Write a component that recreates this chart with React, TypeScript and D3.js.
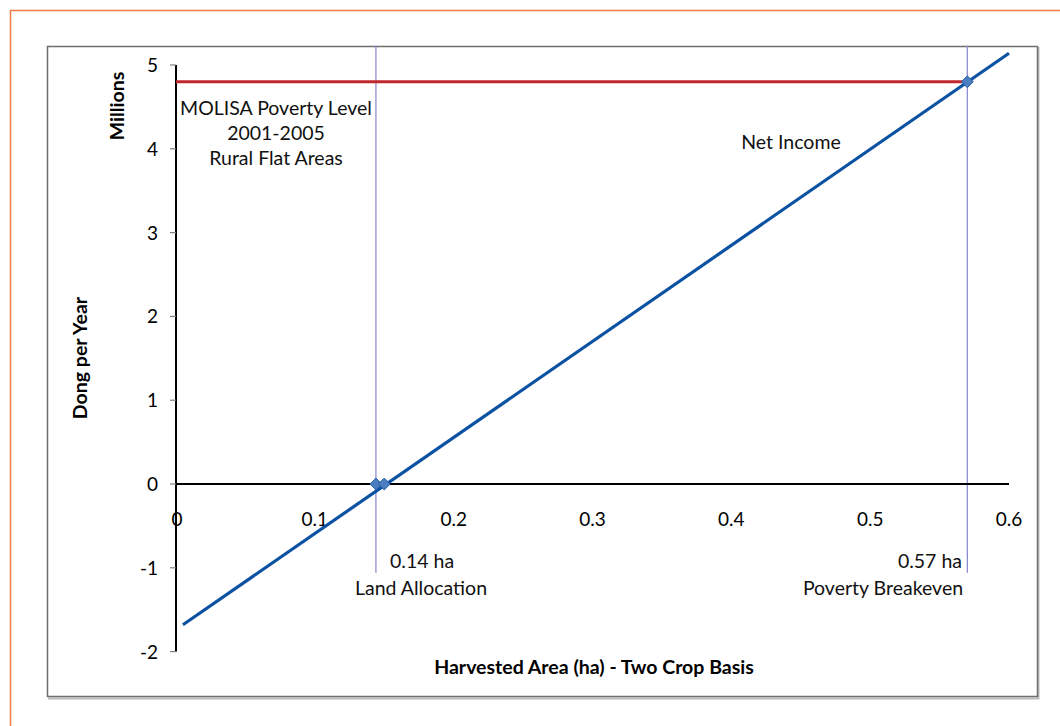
import * as d3 from 'd3';
import { useEffect, useRef } from 'react';

// values
const netIncomeX = [0.005, 0.6];
const netIncomeY = [-1.68, 5.14];
const povertyX = [0, 0.57];
const povertyY = [4.8, 4.8];
const markerX = [0.144, 0.15, 0.57];
const markerY = [0, 0, 4.8];
const dropX = [0.144, 0.57];
const dropTop = 5.23;
const dropBottom = -1.06;
const xTicks = [0, 0.1, 0.2, 0.3, 0.4, 0.5, 0.6];
const yTicks = [-2, -1, 0, 1, 2, 3, 4, 5];

const W = 1060;
const H = 726;
const FONT = 'Lato, "Open Sans", sans-serif';

export default function App() {
  const ref = useRef<SVGSVGElement | null>(null);

  useEffect(() => {
    const svg = d3.select(ref.current);
    svg.selectAll('*').remove();
    svg.attr('width', W).attr('height', H).attr('viewBox', [0, 0, W, H]);

    svg.append('rect').attr('width', W).attr('height', H).attr('fill', '#fff');

    // outer orange frame (only top and left visible)
    svg.append('path').attr('d', `M10.5,${H} V10.5 H${W}`).attr('fill', 'none').attr('stroke', '#f47a4a').attr('stroke-width', 1.5);

    // chart box with shadow
    svg.append('path').attr('d', 'M1038.5,47 V698.5 H48').attr('fill', 'none').attr('stroke', '#bbb').attr('stroke-width', 2);
    svg.append('rect').attr('x', 47.5).attr('y', 46.5).attr('width', 990).attr('height', 650).attr('fill', 'none').attr('stroke', '#6e6e6e').attr('stroke-width', 1.5);

    const x = d3.scaleLinear().domain([0, 0.6]).range([176, 1009]);
    const y = d3.scaleLinear().domain([-2, 5]).range([651.6, 65]);

    // drop lines
    svg.append('g').selectAll('line').data(dropX).join('line')
      .attr('x1', (d) => x(d)).attr('x2', (d) => x(d))
      .attr('y1', y(dropTop)).attr('y2', y(dropBottom))
      .attr('stroke', '#8f8fcf').attr('stroke-width', 1.3);

    // y axis
    svg.append('line').attr('x1', x(0)).attr('x2', x(0)).attr('y1', y(5)).attr('y2', y(-2)).attr('stroke', '#000').attr('stroke-width', 2);
    svg.append('g').selectAll('line').data(yTicks).join('line')
      .attr('x1', x(0) - 6).attr('x2', x(0)).attr('y1', (d) => y(d)).attr('y2', (d) => y(d))
      .attr('stroke', '#808080').attr('stroke-width', 1.2);
    svg.append('g').attr('font-family', FONT).attr('font-size', 19).attr('text-anchor', 'end')
      .selectAll('text').data(yTicks).join('text')
      .attr('x', 158).attr('y', (d) => y(d) + 7).text((d) => String(d));

    // x axis at zero
    svg.append('line').attr('x1', x(0)).attr('x2', x(0.6)).attr('y1', y(0)).attr('y2', y(0)).attr('stroke', '#000').attr('stroke-width', 2);
    svg.append('g').attr('font-family', FONT).attr('font-size', 19).attr('text-anchor', 'middle')
      .selectAll('text').data(xTicks).join('text')
      .attr('x', (d) => x(d) + (d === 0 ? 1 : 0)).attr('y', y(0) + 42).text((d) => (d === 0 ? '0' : d3.format('.1f')(d)));

    // poverty level line
    const line = d3.line<number>().x((d, i) => x(povertyX[i])).y((d) => y(d));
    svg.append('path').datum(povertyY).attr('d', line).attr('fill', 'none').attr('stroke', '#c0262c').attr('stroke-width', 3);

    // net income line
    const line2 = d3.line<number>().x((d, i) => x(netIncomeX[i])).y((d) => y(d));
    svg.append('path').datum(netIncomeY).attr('d', line2).attr('fill', 'none').attr('stroke', '#0c52a2').attr('stroke-width', 3.2);

    // markers
    const diamond = d3.symbol().type(d3.symbolDiamond2).size(90);
    svg.append('g').selectAll('path').data(markerX).join('path')
      .attr('transform', (d, i) => `translate(${x(d)},${y(markerY[i])})`)
      .attr('d', diamond).attr('fill', '#4a7ec0').attr('stroke', '#2860a8').attr('stroke-width', 1);

    const t = svg.append('g').attr('font-family', FONT).attr('font-size', 19.5).attr('fill', '#111');
    const label = (tx: number, ty: number, s: string, anchor = 'middle') =>
      t.append('text').attr('x', tx).attr('y', ty).attr('text-anchor', anchor).text(s);
    label(276, 115, 'MOLISA Poverty Level');
    label(276, 140, '2001-2005');
    label(276, 165, 'Rural Flat Areas');
    label(791, 149, 'Net Income');
    label(390, 568, '0.14 ha', 'start');
    label(421, 595, 'Land Allocation');
    label(962, 568, '0.57 ha', 'end');
    label(883, 595, 'Poverty Breakeven');

    const b = svg.append('g').attr('font-family', FONT).attr('font-size', 19.5).attr('font-weight', 'bold').attr('fill', '#000').attr('text-anchor', 'middle');
    b.append('text').attr('x', 594).attr('y', 674).text('Harvested Area (ha) - Two Crop Basis');
    b.append('text').attr('transform', 'translate(87,358) rotate(-90)').text('Dong per Year');
    b.append('text').attr('transform', 'translate(124,106) rotate(-90)').text('Millions');
  }, []);

  return <svg ref={ref} style={{ position: 'absolute', left: 0, top: 0, display: 'block' }} />;
}
